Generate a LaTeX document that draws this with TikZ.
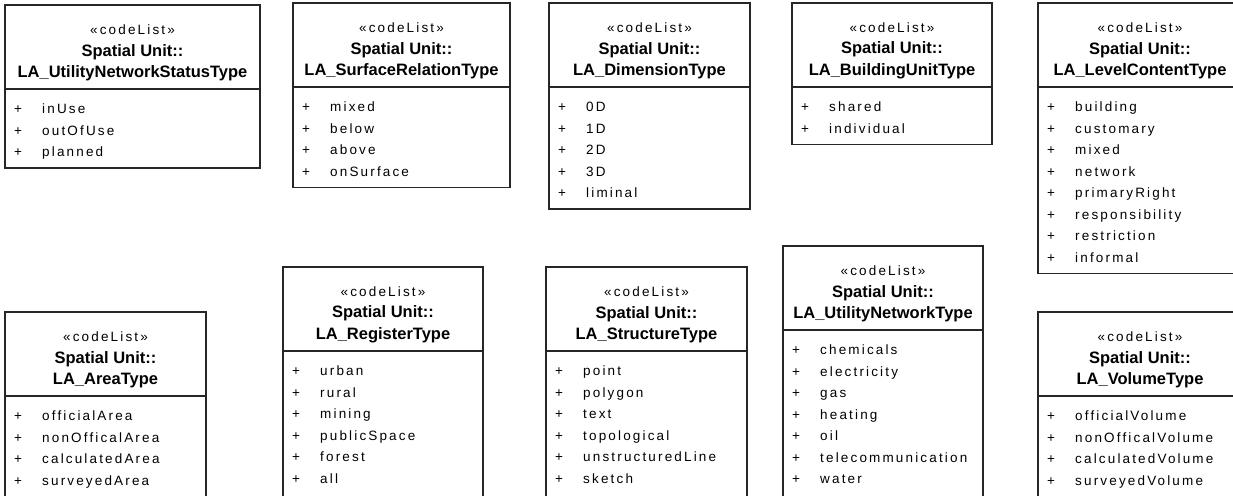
\documentclass[tikz,border=0pt]{standalone}
\usepackage{fontspec}
\setmainfont{Liberation Sans}
\newfontfamily\spacedsans[LetterSpace=16]{Liberation Sans}
\usetikzlibrary{positioning}

\tikzset{
  stereo/.style={font=\spacedsans\fontsize{13.5}{15}\selectfont, inner sep=0pt},
  typename/.style={font=\bfseries\fontsize{16.5}{21.5}\selectfont, align=center, inner sep=0pt},
  literal/.style={font=\spacedsans\fontsize{13.5}{15}\selectfont, anchor=west, inner sep=0pt, text height=9.5pt, text depth=3pt},
  boxline/.style={line width=1.3pt, black!85}
}

% one code list: left, top, right, rows of the box, type name, literals
\newcommand{\codelist}[6]{%
  \draw[boxline] (#1,#2) rectangle (#3,#2+98.5+21.5*#4);
  \draw[boxline] (#1,#2+84) -- (#3,#2+84);
  \node[stereo] (#5-st) at ({(#1+#3)/2},#2+25) {«codeList»};
  \node[typename] (#5-ti) at ({(#1+#3)/2},#2+57.5) {Spatial Unit::\\LA\_#5};
  \foreach \lit [count=\idx] in {#6} {
    \node[literal] (#5-p\idx) at (#1+9,#2+84+21.5*\idx) {+};
    \node[literal] (#5-l\idx) at (#1+37,#2+84+21.5*\idx) {\lit};
  }
}

\begin{document}
\begin{tikzpicture}[x=1pt, y=-1pt]
\useasboundingbox (0,0) rectangle (1233,495);
\clip (0,0) rectangle (1233,495);
\fill[white] (0,0) rectangle (1233,495);
% top row
\codelist{5}{5}{260}{3}{UtilityNetworkStatusType}{inUse,outOfUse,planned}
\codelist{293}{3}{510}{4}{SurfaceRelationType}{mixed,below,above,onSurface}
\codelist{549}{3}{750}{5}{DimensionType}{0D,1D,2D,3D,liminal}
\codelist{792}{3}{992}{2}{BuildingUnitType}{shared,individual}
\codelist{1038}{3}{1242}{8}{LevelContentType}{building,customary,mixed,network,primaryRight,responsibility,restriction,informal}
% bottom row, cut by the lower edge
\codelist{5}{312}{206}{5}{AreaType}{officialArea,nonOfficalArea,calculatedArea,surveyedArea}
\codelist{283}{267}{483}{7}{RegisterType}{urban,rural,mining,publicSpace,forest,all}
\codelist{546}{267}{747}{7}{StructureType}{point,polygon,text,topological,unstructuredLine,sketch}
\codelist{783}{246}{983}{8}{UtilityNetworkType}{chemicals,electricity,gas,heating,oil,telecommunication,water}
\codelist{1038}{312}{1242}{5}{VolumeType}{officialVolume,nonOfficalVolume,calculatedVolume,surveyedVolume}
\end{tikzpicture}
\end{document}
